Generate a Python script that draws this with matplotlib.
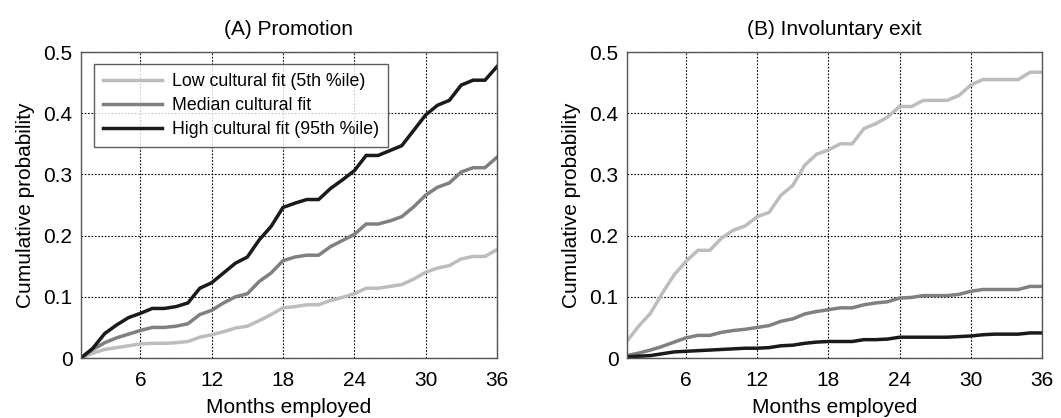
import matplotlib
matplotlib.use("Agg")
import matplotlib.pyplot as plt

plt.rcParams['font.family'] = ['Liberation Sans', 'DejaVu Sans']

months = list(range(1, 37))

promo_low = [0, 0.008, 0.014, 0.017, 0.020, 0.023, 0.024, 0.024, 0.025, 0.027,
             0.034, 0.038, 0.043, 0.049, 0.052, 0.061, 0.071, 0.082, 0.084, 0.087,
             0.087, 0.094, 0.099, 0.105, 0.114, 0.114, 0.117, 0.120, 0.129, 0.140,
             0.147, 0.151, 0.162, 0.166, 0.166, 0.177]
promo_med = [0, 0.014, 0.025, 0.033, 0.039, 0.045, 0.050, 0.050, 0.052, 0.056,
             0.071, 0.078, 0.090, 0.100, 0.105, 0.125, 0.139, 0.159, 0.165, 0.168,
             0.168, 0.182, 0.192, 0.202, 0.219, 0.219, 0.224, 0.231, 0.247, 0.266,
             0.279, 0.286, 0.304, 0.311, 0.311, 0.328]
promo_high = [0, 0.016, 0.040, 0.054, 0.066, 0.073, 0.081, 0.081, 0.084, 0.090,
              0.114, 0.123, 0.139, 0.155, 0.165, 0.193, 0.215, 0.246, 0.253, 0.259,
              0.259, 0.277, 0.291, 0.306, 0.331, 0.331, 0.339, 0.347, 0.372, 0.397,
              0.413, 0.421, 0.446, 0.454, 0.454, 0.476]

exit_low = [0.027, 0.052, 0.073, 0.106, 0.136, 0.158, 0.176, 0.176, 0.196, 0.209,
            0.216, 0.231, 0.238, 0.266, 0.282, 0.315, 0.333, 0.340, 0.350, 0.350,
            0.375, 0.383, 0.394, 0.411, 0.411, 0.421, 0.421, 0.421, 0.429, 0.446,
            0.455, 0.455, 0.455, 0.455, 0.467, 0.467]
exit_med = [0.004, 0.008, 0.013, 0.019, 0.026, 0.033, 0.037, 0.037, 0.042, 0.045,
            0.047, 0.050, 0.053, 0.060, 0.064, 0.072, 0.076, 0.079, 0.082, 0.082,
            0.087, 0.090, 0.092, 0.098, 0.099, 0.102, 0.102, 0.102, 0.104, 0.109,
            0.112, 0.112, 0.112, 0.112, 0.117, 0.117]
exit_high = [0.002, 0.003, 0.004, 0.007, 0.010, 0.011, 0.012, 0.013, 0.014, 0.015,
             0.016, 0.016, 0.017, 0.020, 0.021, 0.024, 0.026, 0.027, 0.027, 0.027,
             0.030, 0.030, 0.031, 0.034, 0.034, 0.034, 0.034, 0.034, 0.035, 0.036,
             0.038, 0.039, 0.039, 0.039, 0.041, 0.041]

labels = ["Low cultural fit (5th %ile)", "Median cultural fit", "High cultural fit (95th %ile)"]
colors = ["#bdbdbd", "#808080", "#1a1a1a"]
titles = ["(A) Promotion", "(B) Involuntary exit"]
xticks = [6, 12, 18, 24, 30, 36]
yticks = [0, 0.1, 0.2, 0.3, 0.4, 0.5]
yticklabels = ["0", "0.1", "0.2", "0.3", "0.4", "0.5"]

fig = plt.figure(figsize=(10.61, 4.18), dpi=100)
ax1 = fig.add_axes([0.0763, 0.1435, 0.392, 0.732])
ax2 = fig.add_axes([0.5907, 0.1435, 0.3914, 0.732])

panels = [(ax1, [promo_low, promo_med, promo_high]),
          (ax2, [exit_low, exit_med, exit_high])]

for i, (ax, series) in enumerate(panels):
    for s, c, lab in zip(series, colors, labels):
        ax.plot(months, s, color=c, lw=2.5, label=lab, solid_joinstyle='miter')
    ax.set_xlim(1, 36)
    ax.set_ylim(0, 0.5)
    ax.set_xticks(xticks)
    ax.set_yticks(yticks)
    ax.set_yticklabels(yticklabels)
    ax.grid(True, color='black', linestyle=(0, (1.5, 1.5)), linewidth=0.8)
    ax.tick_params(axis='x', length=0, labelsize=15, pad=9)
    ax.tick_params(axis='y', length=0, labelsize=15, pad=6)
    ax.set_title(titles[i], fontsize=15, pad=12)
    ax.set_xlabel("Months employed", fontsize=15, labelpad=6)
    ax.set_ylabel("Cumulative probability", fontsize=15, labelpad=6)
    for sp in ax.spines.values():
        sp.set_color('#555555')
        sp.set_linewidth(1.0)

leg = ax1.legend(loc='upper left', fontsize=12.8, frameon=True, fancybox=False,
                 edgecolor='#333333', handlelength=3.3, borderpad=0.5,
                 labelspacing=0.4, handletextpad=0.6,
                 bbox_to_anchor=(0.01, 0.99))
leg.get_frame().set_linewidth(1.0)

fig.savefig("out.png", dpi=100)
